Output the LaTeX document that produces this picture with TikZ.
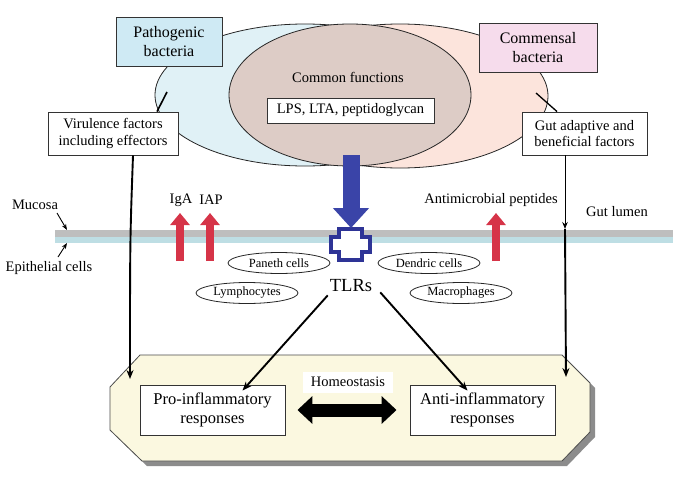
\documentclass[tikz,border=0pt]{standalone}
\usepackage{fontspec}
\setmainfont{Liberation Serif}
\usetikzlibrary{arrows.meta,shapes.geometric}
\definecolor{pathbox}{RGB}{207,234,244}
\definecolor{pathell}{RGB}{224,241,246}
\definecolor{commell}{RGB}{252,228,220}
\definecolor{innerell}{RGB}{221,204,198}
\definecolor{commbox}{RGB}{246,220,236}
\definecolor{panel}{RGB}{251,248,224}
\definecolor{shadowc}{RGB}{140,140,140}
\definecolor{mucgray}{RGB}{190,190,190}
\definecolor{epiblue}{RGB}{190,222,228}
\definecolor{tlrblue}{RGB}{58,68,168}
\definecolor{crossblue}{RGB}{46,52,150}
\definecolor{redarr}{RGB}{214,52,72}
\newcommand\ftxt{\fontsize{14.5}{16.5}\selectfont}
\newcommand\fbig{\fontsize{16}{19}\selectfont}
\newcommand\fresp{\fontsize{16.5}{19}\selectfont}
\newcommand\fcell{\fontsize{12.5}{14}\selectfont}
\newcommand\ftlr{\fontsize{18.5}{20}\selectfont}
\begin{document}
\begin{tikzpicture}[x=1pt,y=-1pt,
  box/.style={draw=black!80, line width=0.9pt, fill=white, align=center, inner sep=0pt},
  cell/.style={ellipse, draw=black!85, line width=0.8pt, fill=white, inner sep=0pt, minimum width=102pt, minimum height=21pt, font=\fcell},
  lbl/.style={inner sep=0pt, font=\ftxt},
  conn/.style={-{Stealth[length=9pt,width=7pt]}, line width=1.9pt},
  thinconn/.style={-{Stealth[length=7pt,width=5.5pt]}, line width=1pt},
  redup/.style={line width=8.5pt, draw=redarr, -{Triangle[length=12pt,width=19pt]}}
]
\useasboundingbox (0,0) rectangle (688,482);
\fill[white] (0,0) rectangle (688,482);

% ellipses
\draw[fill=pathell, draw=black!85, line width=0.8pt] (305,95) ellipse [x radius=150, y radius=71];
\draw[fill=commell, draw=black!85, line width=0.8pt] (400,96) ellipse [x radius=148, y radius=72];
\draw[fill=innerell, draw=black!85, line width=0.8pt] (350,95) ellipse [x radius=121, y radius=71];

\node[lbl] (common) at (348,77) {Common functions};
\node[box, minimum width=167pt, minimum height=25pt, font=\ftxt] (lps) at (350.5,110.5) {LPS, LTA, peptidoglycan};

% bacteria boxes
\node[box, fill=pathbox, minimum width=106pt, minimum height=49pt, font=\fbig] (patho) at (169,41.5) {Pathogenic\\bacteria};
\node[box, fill=commbox, minimum width=118pt, minimum height=49pt, font=\fbig] (comm) at (538,47.5) {Commensal\\bacteria};

% factor boxes
\node[box, minimum width=130pt, minimum height=43pt, font=\ftxt] (virul) at (113,133.5) {Virulence factors\\including effectors};
\node[box, minimum width=125pt, minimum height=43pt, font=\ftxt] (gut) at (584.5,133.5) {Gut adaptive and\\beneficial factors};

\coordinate (pe) at (167,92);
\coordinate (ce) at (536,93);
\draw[line width=1.6pt] (pe) -- ([xshift=44]virul.north);
\draw[line width=1.3pt] (ce) -- ([xshift=-27.5]gut.north);

% membrane
\fill[mucgray] (55,230) rectangle (673,237);
\fill[epiblue] (55,237) rectangle (673,243);

% bottom panel
\fill[shadowc] (145,360) -- (567,360) -- (595,388) -- (595,437) -- (567,466) -- (147,466) -- (115,435) -- (115,392) -- cycle;
\draw[fill=panel, draw=black!70, line width=0.8pt] (140,355) -- (562,355) -- (590,383) -- (590,432) -- (562,461) -- (142,461) -- (110,430) -- (110,387) -- cycle;

\node[box, minimum width=145pt, minimum height=50pt, font=\fresp] (pro) at (212.5,410) {Pro-inflammatory\\responses};
\node[box, minimum width=145pt, minimum height=50pt, font=\fresp] (anti) at (482.5,410) {Anti-inflammatory\\responses};
\node[fill=white, inner sep=0pt, minimum width=90pt, minimum height=21pt, font=\ftxt] (homeo) at (348,382) {Homeostasis};
\draw[line width=13pt, {Triangle[length=15pt,width=27pt]}-{Triangle[length=15pt,width=27pt]}] ([xshift=12]pro.east) -- ([xshift=-13]anti.west);

% side connectors
\coordinate (pl) at (130,379);
\coordinate (pr) at (566,377);
\coordinate (gm) at (565,229);
\draw[conn] ([xshift=20]virul.south) .. controls (130,240) .. (pl);
\draw[thinconn] ([xshift=-19.5]gut.south) -- (gm);
\draw[conn] (gm) -- (pr);

% mucosa labels
\node[lbl] (mucosa) at (35,205) {Mucosa};
\node[lbl] (epi) at (49,268) {Epithelial cells};
\coordinate (mucpt) at (67,230);
\coordinate (epipt) at (67,243);
\draw[-{Stealth[length=6pt,width=4.5pt]}, line width=0.9pt] (57,213) -- (mucpt);
\draw[-{Stealth[length=6pt,width=4.5pt]}, line width=0.9pt] (58,257) -- (epipt);

% red arrows
\node[lbl] (iga) at (181,200) {IgA};
\node[lbl] (iap) at (211,200) {IAP};
\node[lbl] (amp) at (491,200) {Antimicrobial peptides};
\node[lbl] (lumen) at (617,212) {Gut lumen};
\draw[redup] (180,261) -- (180,213);
\draw[redup] (210,261) -- (210,213);
\draw[redup] (496,261) -- (496,213);

% TLR cross
\draw[draw=crossblue, fill=white, line width=3.2pt, line join=miter]
  (339,229) -- (362,229) -- (362,237) -- (370,237) -- (370,252) -- (362,252) -- (362,260)
  -- (339,260) -- (339,252) -- (331,252) -- (331,237) -- (339,237) -- cycle;
\coordinate (crosstop) at (351,228);
\coordinate (bluestart) at (351,155);
\draw[line width=17pt, draw=tlrblue, -{Triangle[length=20pt,width=35pt]}] (bluestart) -- (crosstop);

\node[inner sep=0pt, font=\ftlr] (tlrs) at (351,286) {TLRs};

% cells
\node[cell] (paneth) at (279,263) {Paneth cells};
\node[cell] (lymph) at (247,293) {Lymphocytes};
\node[cell] (dend) at (429,263) {Dendric cells};
\node[cell] (macro) at (461,293) {Macrophages};

% TLR arrows
\draw[conn] ([shift={(-2,3)}]tlrs.south west) -- ([xshift=30,yshift=-6]pro.north);
\draw[conn] ([xshift=8]tlrs.south east) -- ([xshift=-15,yshift=-6]anti.north);
\end{tikzpicture}
\end{document}
